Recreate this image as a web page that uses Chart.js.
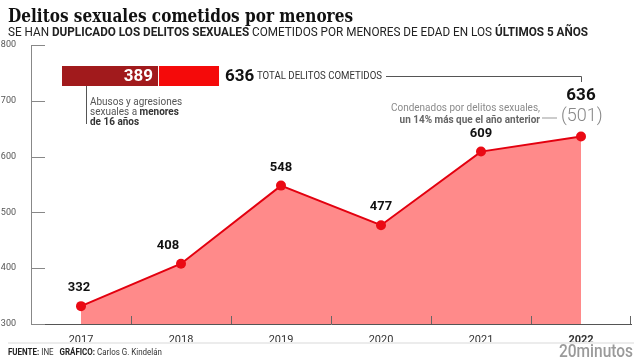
<!DOCTYPE html>
<html>
<head>
<meta charset="utf-8">
<script src="https://cdn.jsdelivr.net/npm/chart.js@4/dist/chart.umd.min.js"></script>
<style>
  html, body { margin: 0; padding: 0; background: #fff; }
  canvas { display: block; }
</style>
</head>
<body>
<canvas id="chart" width="640" height="360"></canvas>
<script>
// datos (fuente: INE)
const years = ['2017', '2018', '2019', '2020', '2021', '2022'];
const delitos = [332, 408, 548, 477, 609, 636];
const abusosMenores16 = 389;
const totalDelitos = 636;
const condenados = 501;
const yMin = 300, yMax = 800, yStep = 100;

const SANS = 'Roboto, "Liberation Sans", sans-serif';

// dibuja texto con trozos normales/negrita, con escala horizontal (letra condensada)
function rich(ctx, parts, x, y, size, opt) {
  opt = opt || {};
  const sx = opt.sx || 1;
  const fam = opt.family || SANS;
  let widths = parts.map(p => {
    ctx.font = (p.w || 400) + ' ' + size + 'px ' + fam;
    return ctx.measureText(p.t).width;
  });
  let total = widths.reduce((a, b) => a + b, 0);
  let k = opt.fit ? opt.fit / total : sx;
  let x0 = x;
  if (opt.align === 'right') x0 = x - total * k;
  if (opt.align === 'center') x0 = x - total * k / 2;
  ctx.save();
  ctx.translate(x0, y);
  ctx.scale(k, 1);
  ctx.textBaseline = 'middle';
  ctx.textAlign = 'left';
  let cx = 0;
  parts.forEach((p, i) => {
    ctx.font = (p.w || 400) + ' ' + size + 'px ' + fam;
    ctx.fillStyle = p.c || '#222';
    ctx.fillText(p.t, cx, 0);
    cx += widths[i];
  });
  ctx.restore();
}

function line(ctx, pts, color, w) {
  ctx.save();
  ctx.strokeStyle = color;
  ctx.lineWidth = w || 1;
  ctx.beginPath();
  ctx.moveTo(pts[0][0], pts[0][1]);
  for (let i = 1; i < pts.length; i++) ctx.lineTo(pts[i][0], pts[i][1]);
  ctx.stroke();
  ctx.restore();
}

const anotaciones = {
  id: 'anotaciones',
  afterDraw(chart) {
    const ctx = chart.ctx;
    const xs = chart.scales.x, ys = chart.scales.y;
    const pts = chart.getDatasetMeta(0).data;
    const bottom = ys.bottom;

    // titulo y subtitulo
    rich(ctx, [{ t: 'Delitos sexuales cometidos por menores', w: 700, c: '#111' }], 8, 17, 18,
      { family: '"DejaVu Serif", "Liberation Serif", serif', fit: 345 });
    rich(ctx, [
      { t: 'SE HAN ', c: '#222' },
      { t: 'DUPLICADO LOS DELITOS SEXUALES', w: 700, c: '#222' },
      { t: ' COMETIDOS POR MENORES DE EDAD EN LOS ', c: '#222' },
      { t: 'ÚLTIMOS 5 AÑOS', w: 700, c: '#222' }
    ], 8, 33, 12, { fit: 580 });

    // marcas del eje y (hacia dentro)
    ys.ticks.forEach(t => {
      const y = Math.round(ys.getPixelForValue(t.value)) + 0.5;
      line(ctx, [[xs.left, y], [xs.left + 14, y]], '#888', 1);
    });
    // marcas del eje x entre categorias
    for (let i = 0; i < years.length; i++) {
      let x;
      if (i < years.length - 1) x = (xs.getPixelForTick(i) + xs.getPixelForTick(i + 1)) / 2;
      else x = xs.right - 1;
      x = Math.round(x) + 0.5;
      line(ctx, [[x, bottom], [x, bottom - 8]], '#666', 1);
    }

    // etiquetas de valores
    const dx = [-2, -13, 0, 0, 0];
    for (let i = 0; i < delitos.length - 1; i++) {
      rich(ctx, [{ t: String(delitos[i]), w: 700, c: '#111' }], pts[i].x + dx[i], pts[i].y - 18, 13, { align: 'center' });
    }
    const last = pts[pts.length - 1];
    rich(ctx, [{ t: String(delitos[delitos.length - 1]), w: 700, c: '#111' }], last.x, last.y - 41, 17, { align: 'center' });
    rich(ctx, [{ t: '(' + condenados + ')', w: 300, c: '#888' }], last.x - 20, last.y - 20, 18, {});
    line(ctx, [[542, last.y - 18.5], [557, last.y - 18.5]], '#999', 1);
    rich(ctx, [{ t: 'Condenados por delitos sexuales,', c: '#8a8a8a' }], 540, last.y - 28, 10.5, { align: 'right', sx: 0.95 });
    rich(ctx, [{ t: 'un 14% más que el año anterior', w: 700, c: '#666' }], 540, last.y - 16, 10.5, { align: 'right', sx: 0.95 });

    // barra de total de delitos
    const bx = 62, by = 66, bh = 20, bw = 157;
    const w1 = bw * abusosMenores16 / totalDelitos;
    ctx.fillStyle = '#a11a1c';
    ctx.fillRect(bx, by, w1, bh);
    ctx.fillStyle = '#f50a0a';
    ctx.fillRect(bx + w1 + 1, by, bw - w1 - 1, bh);
    rich(ctx, [{ t: String(abusosMenores16), w: 700, c: '#fff' }], bx + w1 - 5, by + bh / 2 + 0.5, 17, { align: 'right' });
    rich(ctx, [{ t: String(totalDelitos), w: 700, c: '#111' }], bx + bw + 6, by + bh / 2 + 0.5, 17, {});
    rich(ctx, [{ t: 'TOTAL DELITOS COMETIDOS', c: '#333' }], 257, by + bh / 2 + 0.5, 10, { fit: 125 });
    line(ctx, [[386, 76.5], [Math.round(last.x) + 0.5, 76.5], [Math.round(last.x) + 0.5, 82]], '#555', 1);

    // nota de menores de 16
    line(ctx, [[86.5, by + bh], [86.5, 124]], '#555', 1);
    rich(ctx, [{ t: 'Abusos y agresiones', c: '#555' }], 90, 102, 10.5, { sx: 0.95 });
    rich(ctx, [{ t: 'sexuales a ', c: '#555' }, { t: 'menores', w: 700, c: '#333' }], 90, 112, 10.5, { sx: 0.95 });
    rich(ctx, [{ t: 'de 16 años', w: 700, c: '#333' }], 90, 122, 10.5, { sx: 0.95 });

    // pie
    ctx.fillStyle = '#ececec';
    ctx.fillRect(8, 342, 626, 2);
    rich(ctx, [
      { t: 'FUENTE:', w: 700, c: '#222' }, { t: ' INE   ', c: '#333' },
      { t: 'GRÁFICO:', w: 700, c: '#222' }, { t: ' Carlos G. Kindelán', c: '#333' }
    ], 8, 353, 9, { fit: 154 });
    rich(ctx, [{ t: '20minutos', w: 500, c: '#9a9a9a' }], 633, 352, 18, { align: 'right', fit: 74 });
  }
};

new Chart(document.getElementById('chart'), {
  type: 'line',
  data: {
    labels: years,
    datasets: [{
      label: 'Delitos sexuales',
      data: delitos,
      borderColor: '#e3000f',
      borderWidth: 2,
      backgroundColor: '#ff8a8a',
      fill: 'start',
      tension: 0,
      pointRadius: 5,
      pointBackgroundColor: '#ea0a14',
      pointBorderWidth: 0
    }]
  },
  options: {
    responsive: false,
    animation: false,
    layout: { padding: { top: 45, right: 9, bottom: 16, left: 0 } },
    plugins: { legend: { display: false }, tooltip: { enabled: false } },
    scales: {
      x: {
        offset: true,
        grid: { display: false },
        border: { display: true, color: '#555', width: 1 },
        ticks: {
          padding: 2,
          color: '#333',
          font: c => ({ family: SANS, size: 11, weight: c.index === years.length - 1 ? 'bold' : 'normal' })
        },
        afterFit: s => { s.height = 20; }
      },
      y: {
        min: yMin,
        max: yMax,
        grid: { display: false },
        border: { display: true, color: '#888', width: 1 },
        ticks: { stepSize: yStep, padding: 7, color: '#555', font: { family: SANS, size: 9 } },
        afterFit: s => { s.width = 31; }
      }
    }
  },
  plugins: [anotaciones]
});
</script>
</body>
</html>
